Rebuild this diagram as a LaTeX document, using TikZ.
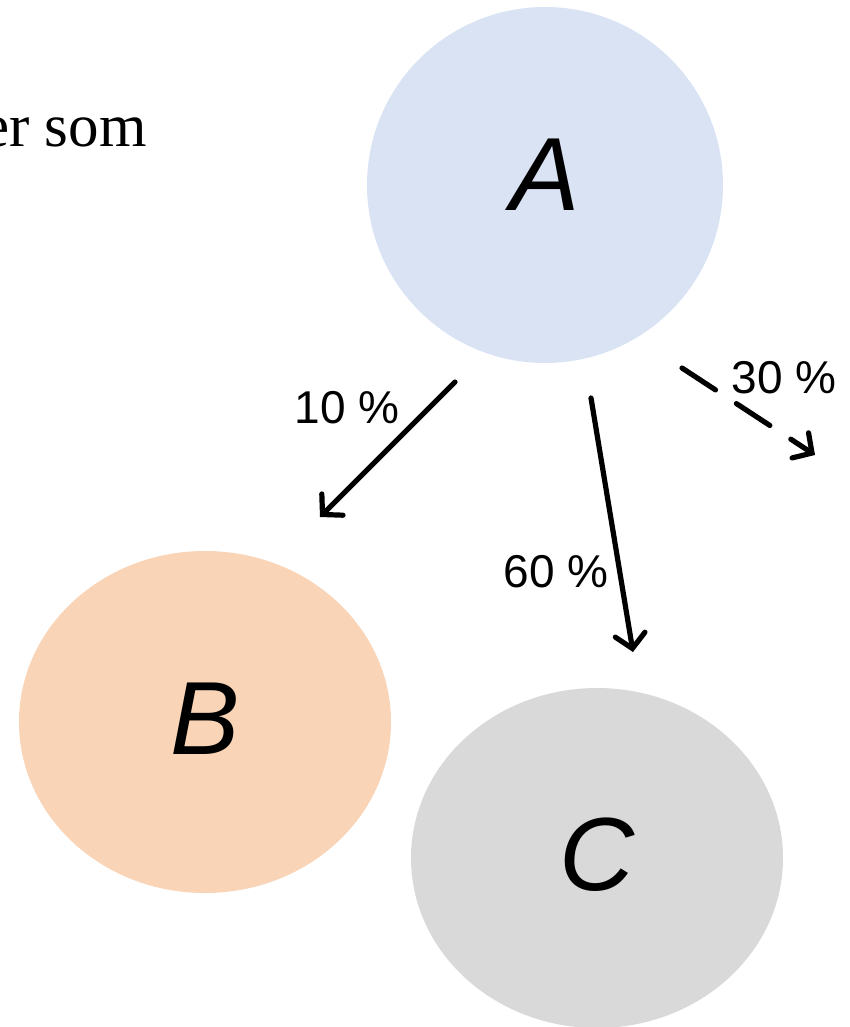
\documentclass[tikz,border=0pt]{standalone}
\usepackage{fontspec}
\setmainfont{Liberation Serif}
\setsansfont{Liberation Sans}
\usepackage{tikz}
\usetikzlibrary{
  arrows.meta,
  shapes.geometric}

\definecolor{fillA}{HTML}{DAE3F3}
\definecolor{fillB}{HTML}{F9D4B6}
\definecolor{fillC}{HTML}{D9D9D9}

\tikzset{
  state/.style={
    ellipse,
    inner sep=0pt,
    font=\sffamily\itshape\fontsize{104}{104}\selectfont,
  },
  flow/.style={
    line width=5.2pt,
    line cap=round,
    -{Straight Barb[length=14pt,width=30pt,line cap=round]},
  },
  share/.style={
    font=\sffamily\fontsize{46}{46}\selectfont,
  },
}

\begin{document}
\begin{tikzpicture}[x=1pt,y=-1pt]
\useasboundingbox (0,0) rectangle (850,1027);
\node[anchor=base east,font=\fontsize{61}{61}\selectfont] (intro) at (150,147) {er som};

\node[state,fill=fillA,minimum width=356pt,minimum height=356pt] (A) at (545,185) {\raisebox{21pt}{A}};
\node[state,fill=fillB,minimum width=372pt,minimum height=342pt] (B) at (205,722) {\raisebox{7pt}{B}};
\node[state,fill=fillC,minimum width=372pt,minimum height=340pt] (C) at (597,858) {\raisebox{8pt}{C}};

%\draw[red] (A.center) -- (B.center);
\coordinate (ab start) at (455,382);
\coordinate (ab end) at (320,517);
\coordinate (ac start) at (591,398);
\coordinate (ac end) at (633,652);
\coordinate (out start) at (682,368);
\coordinate (out end) at (815,455);

\draw[flow] (ab start) -- (ab end);
\draw[flow] (ac start) -- (ac end);
\draw[flow,dash pattern=on 40pt off 25pt] (out start) -- (out end);

\node[share] (ab label) at (347,408) {10 \%};
\node[share] (ac label) at (556,572) {60 \%};
\node[share] (out label) at (784,378) {30 \%};
\end{tikzpicture}
\end{document}
